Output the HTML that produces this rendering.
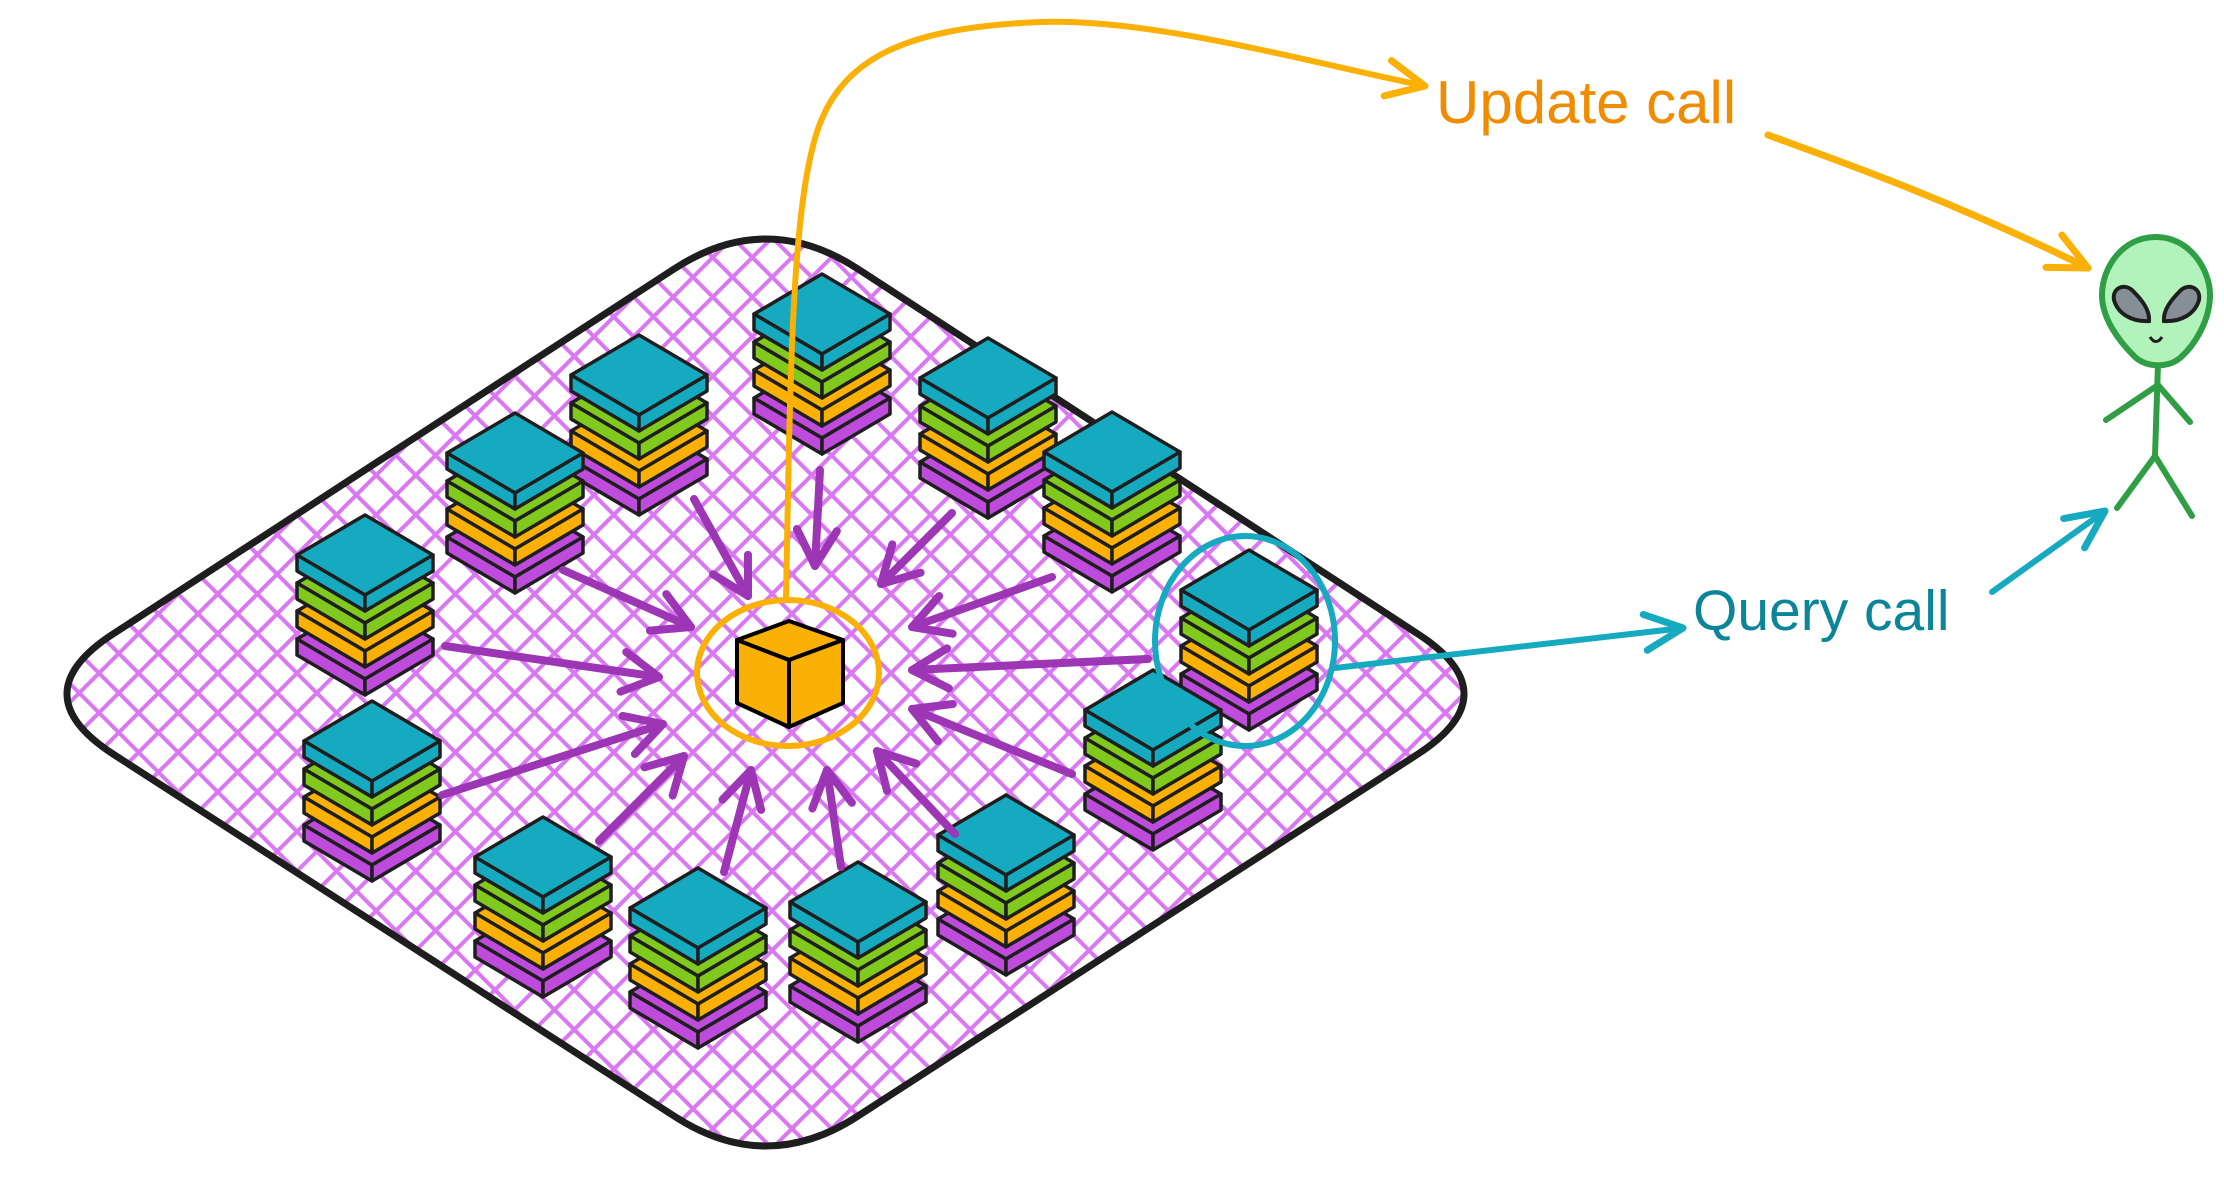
<!DOCTYPE html>
<html><head><meta charset="utf-8"><style>
html,body{margin:0;padding:0;background:#fff}
svg{display:block}
text{font-family:"Liberation Sans",sans-serif}
</style></head><body>
<svg width="2224" height="1188" viewBox="0 0 2224 1188" xmlns="http://www.w3.org/2000/svg">
<defs>
<pattern id="hatch" width="28" height="28" patternUnits="userSpaceOnUse" patternTransform="rotate(45)">
<line x1="0" y1="14" x2="28" y2="14" stroke="#da77f2" stroke-width="4"/>
<line x1="14" y1="0" x2="14" y2="28" stroke="#da77f2" stroke-width="4"/>
</pattern>
<g id="stack" stroke="#1e1e1e" stroke-width="3.5" stroke-linejoin="round">
<g fill="#be4bdb">
<polygon points="68,84 136,124 68,164 0,124"/><polygon points="0,124 68,164 68,180 0,140"/><polygon points="68,164 136,124 136,140 68,180"/></g>
<g fill="#fab005">
<polygon points="68,56 136,96 68,136 0,96"/><polygon points="0,96 68,136 68,152 0,112"/><polygon points="68,136 136,96 136,112 68,152"/></g>
<g fill="#82c91e">
<polygon points="68,28 136,68 68,108 0,68"/><polygon points="0,68 68,108 68,124 0,84"/><polygon points="68,108 136,68 136,84 68,124"/></g>
<g fill="#15aabf">
<polygon points="68,0 136,40 68,80 0,40"/><polygon points="0,40 68,80 68,96 0,56"/><polygon points="68,80 136,40 136,56 68,96"/></g>
</g>
<marker id="mp" markerUnits="userSpaceOnUse" markerWidth="60" markerHeight="60" refX="40" refY="30" orient="auto" viewBox="0 0 60 60">
<path d="M4,10 L40,30 L4,50" fill="none" stroke="#9c36b5" stroke-width="8" stroke-linecap="round" stroke-linejoin="round"/></marker>
<marker id="mo" markerUnits="userSpaceOnUse" markerWidth="60" markerHeight="60" refX="44" refY="30" orient="auto" viewBox="0 0 60 60">
<path d="M6,12 L44,30 L6,48" fill="none" stroke="#fab005" stroke-width="7" stroke-linecap="round" stroke-linejoin="round"/></marker>
<marker id="mt" markerUnits="userSpaceOnUse" markerWidth="60" markerHeight="60" refX="44" refY="30" orient="auto" viewBox="0 0 60 60">
<path d="M6,12 L44,30 L6,48" fill="none" stroke="#15aabf" stroke-width="7" stroke-linecap="round" stroke-linejoin="round"/></marker>
</defs>

<path d="M858,269 L1418,634 Q1510,694 1418,754 L858,1116 Q766,1176 674,1116 L113,754 Q21,694 113,634 L674,269 Q766,209 858,269 Z" fill="url(#hatch)" stroke="#1e1e1e" stroke-width="7"/>

<use href="#stack" x="754" y="274"/>
<use href="#stack" x="571" y="335"/>
<use href="#stack" x="920" y="338"/>
<use href="#stack" x="447" y="413"/>
<use href="#stack" x="1044" y="412"/>
<use href="#stack" x="297" y="515"/>
<use href="#stack" x="1181" y="550"/>
<use href="#stack" x="304" y="701"/>
<use href="#stack" x="1085" y="670"/>
<use href="#stack" x="475" y="817"/>
<use href="#stack" x="938" y="795"/>
<use href="#stack" x="630" y="868"/>
<use href="#stack" x="790" y="862"/>

<g stroke="#9c36b5" stroke-width="8" stroke-linecap="round" fill="none" marker-end="url(#mp)">
<line x1="694" y1="499" x2="748" y2="596"/>
<line x1="820" y1="470" x2="815" y2="566"/>
<line x1="952" y1="513" x2="881" y2="584"/>
<line x1="1052" y1="577" x2="912" y2="627"/>
<line x1="1148" y1="659" x2="912" y2="670"/>
<line x1="1072" y1="774" x2="912" y2="709"/>
<line x1="955" y1="834" x2="877" y2="751"/>
<line x1="841" y1="867" x2="827" y2="770"/>
<line x1="724" y1="872" x2="751" y2="770"/>
<line x1="599" y1="841" x2="684" y2="756"/>
<line x1="442" y1="795" x2="663" y2="724"/>
<line x1="445" y1="646" x2="659" y2="677"/>
<line x1="563" y1="570" x2="691" y2="627"/>
</g>

<g stroke="#000" stroke-width="4" stroke-linejoin="round">
<polygon points="789,621 843,640 789,660 737,640" fill="#fab005"/>
<polygon points="737,640 789,660 789,727 737,703" fill="#fab005"/>
<polygon points="789,660 843,640 843,703 789,727" fill="#fab005"/>
</g>
<ellipse cx="788" cy="673" rx="91" ry="73" fill="none" stroke="#fab005" stroke-width="6"/>

<path d="M786,600 C790,380 792,230 812,150 C832,60 900,28 1040,22 C1150,18 1300,60 1425,86" fill="none" stroke="#fab005" stroke-width="6" stroke-linecap="round" marker-end="url(#mo)"/>
<text x="1436" y="123" font-size="60" fill="#f08c00">Update call</text>
<path d="M1768,135 C1850,165 1950,200 2088,268" fill="none" stroke="#fab005" stroke-width="7" stroke-linecap="round" marker-end="url(#mo)"/>

<ellipse cx="1245" cy="641" rx="90" ry="105" fill="none" stroke="#15aabf" stroke-width="6"/>
<line x1="1335" y1="668" x2="1683" y2="628" stroke="#15aabf" stroke-width="6" stroke-linecap="round" marker-end="url(#mt)"/>
<text x="1693" y="630" font-size="57" fill="#0c8599">Query call</text>
<line x1="1992" y1="592" x2="2105" y2="511" stroke="#15aabf" stroke-width="6" stroke-linecap="round" marker-end="url(#mt)"/>

<g stroke="#2f9e44" stroke-width="6" stroke-linecap="round" fill="none">
<line x1="2158" y1="364" x2="2155" y2="456"/>
<line x1="2158" y1="385" x2="2106" y2="420"/>
<line x1="2158" y1="385" x2="2190" y2="422"/>
<line x1="2155" y1="456" x2="2117" y2="508"/>
<line x1="2155" y1="456" x2="2192" y2="516"/>
</g>
<path d="M2156,237 C2190,237 2210,270 2210,295 C2210,320 2195,345 2180,358 C2168,368 2146,368 2134,356 C2118,340 2102,318 2102,295 C2102,268 2122,237 2156,237 Z" fill="#b2f2bb" stroke="#2f9e44" stroke-width="6"/>
<path d="M2114,300 C2112,288 2124,283 2132,290 C2142,300 2150,310 2149,321 C2132,322 2118,314 2114,300 Z" fill="#868e96" stroke="#1e1e1e" stroke-width="4"/>
<path d="M2199,300 C2201,288 2189,283 2181,290 C2171,300 2163,310 2164,321 C2181,322 2195,314 2199,300 Z" fill="#868e96" stroke="#1e1e1e" stroke-width="4"/>
<path d="M2150,337 Q2156,346 2162,337" fill="none" stroke="#1e1e1e" stroke-width="3"/>
</svg>
</body></html>
